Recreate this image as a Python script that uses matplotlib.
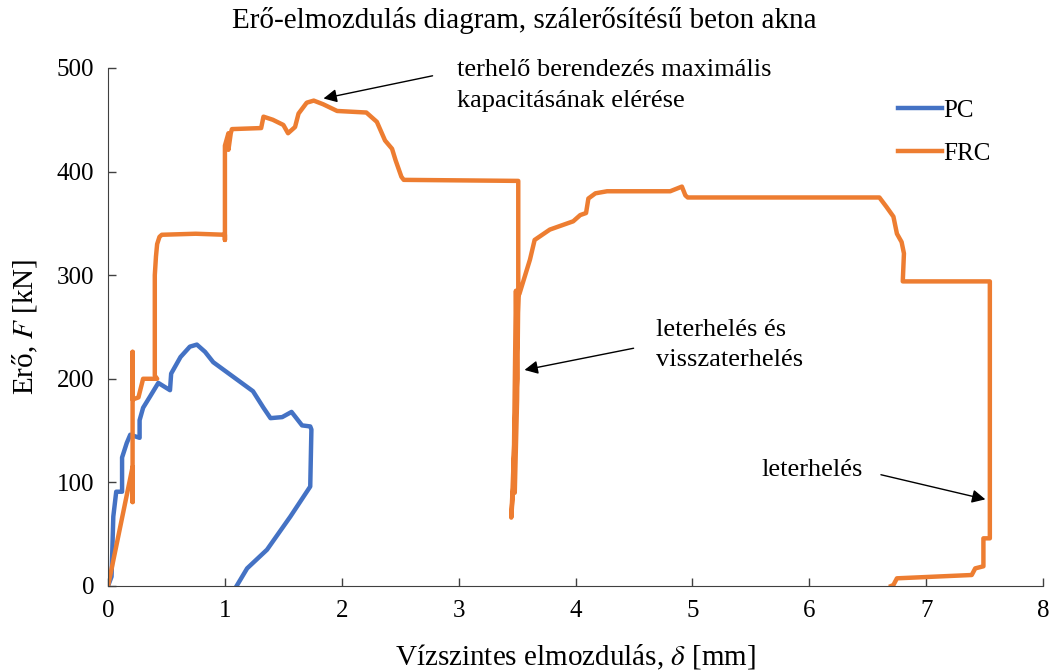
import matplotlib
matplotlib.use("Agg")
import matplotlib.pyplot as plt

# PC (plain concrete) curve
pc_x = [0.0, 0.03, 0.045, 0.07, 0.12, 0.12, 0.16, 0.19, 0.27, 0.27, 0.30, 0.36, 0.43,
        0.53, 0.54, 0.62, 0.70, 0.76, 0.83, 0.90, 1.07, 1.24, 1.33, 1.39, 1.49,
        1.57, 1.66, 1.73, 1.74, 1.73, 1.56, 1.36, 1.19, 1.10]
pc_y = [0, 9, 67, 91, 91, 124, 138, 146, 143, 160, 172, 183, 196,
        189, 205, 221, 231, 233, 226, 216, 202, 188, 172, 162, 163,
        168, 155, 154, 151, 96, 67, 35, 17, 0]

# FRC (fibre reinforced concrete) curve
frc_x = [0.0, 0.21, 0.21, 0.21, 0.21, 0.21, 0.26, 0.30, 0.42, 0.40, 0.40, 0.41, 0.42,
         0.44, 0.46, 0.75, 1.00, 1.00, 1.00, 1.00, 1.00, 1.03, 1.03, 1.05, 1.06,
         1.31, 1.33, 1.41, 1.50, 1.54, 1.60, 1.63, 1.70, 1.76, 1.84, 1.96, 2.21,
         2.30, 2.37, 2.43, 2.46, 2.51, 2.53, 3.51, 3.51, 3.48, 3.46, 3.45, 3.47,
         3.49, 3.50, 3.47, 3.48, 3.50, 3.51, 3.52, 3.61, 3.65, 3.78, 3.98, 4.04,
         4.09, 4.11, 4.17, 4.27, 4.81, 4.91, 4.94, 4.96, 6.60, 6.66, 6.72, 6.75,
         6.79, 6.81, 6.80, 7.545, 7.545, 7.49, 7.49, 7.42, 7.39, 6.75, 6.72, 6.70]
frc_y = [0, 115, 81, 226, 200, 180, 182, 200, 200, 203, 300, 318, 330,
         337, 339, 340, 339, 334, 339, 400, 425, 437, 421, 437, 441,
         442, 453, 450, 445, 437, 443, 456, 466.5, 468.5, 465, 458.5, 457,
         448, 430, 422, 411, 395, 392, 391, 282, 150, 90, 66, 100,
         285, 200, 110, 90, 180, 280, 282, 315, 334, 344, 352, 358,
         360, 374, 379, 381, 381, 385.5, 377, 375, 375, 366, 356.5, 340,
         332, 321, 294, 294, 46, 46, 19, 17, 10.6, 7.4, 1, 0]

plt.rcParams['font.family'] = ['Liberation Serif', 'DejaVu Serif']
plt.rcParams['mathtext.fontset'] = 'stix'

fig = plt.figure(figsize=(10.49, 6.71), dpi=100)
ax = fig.add_axes([0.103, 0.1267, 0.8913, 0.772])

ax.plot(pc_x, pc_y, color='#4472C4', lw=3.2, label='PC', solid_joinstyle='round')
ax.plot(frc_x, frc_y, color='#ED7D31', lw=3.2, label='FRC', solid_joinstyle='round')

ax.set_xlim(0, 8)
ax.set_ylim(0, 500)
ax.set_xticks(range(0, 9))
ax.set_yticks(range(0, 501, 100))
ax.tick_params(direction='in', length=6, width=1, labelsize=18, pad=10, color='#404040')
for side in ['top', 'right']:
    ax.spines[side].set_visible(False)
for side in ['left', 'bottom']:
    ax.spines[side].set_color('#404040')

ax.set_xlabel('Vízszintes elmozdulás, $\\delta$ [mm]', fontsize=21, labelpad=15)
ax.set_ylabel('Erő, $F$ [kN]', fontsize=21, labelpad=12)
fig.suptitle('Erő-elmozdulás diagram, szálerősítésű beton akna', fontsize=21, y=0.99)

ax.legend(loc='upper left', bbox_to_anchor=(0.835, 0.885), bbox_transform=fig.transFigure,
          frameon=False, fontsize=18, handlelength=1.75, handletextpad=0.05, labelspacing=0.8)

arrow = dict(arrowstyle='-|>', color='black', lw=1, mutation_scale=20)
ax.annotate('', xy=(1.82, 470), xytext=(2.80, 493), arrowprops=arrow)
ax.text(2.99, 498, 'terhelő berendezés maximális', fontsize=19, va='center')
ax.text(2.99, 468, 'kapacitásának elérése', fontsize=19, va='center')

ax.annotate('', xy=(3.54, 208), xytext=(4.52, 230), arrowprops=arrow)
ax.text(4.69, 247, 'leterhelés és', fontsize=19, va='center')
ax.text(4.69, 218, 'visszaterhelés', fontsize=19, va='center')

ax.annotate('', xy=(7.53, 83), xytext=(6.59, 108), arrowprops=arrow)
ax.text(5.59, 112, 'leterhelés', fontsize=19, va='center')

fig.savefig('out.png', dpi=100)
